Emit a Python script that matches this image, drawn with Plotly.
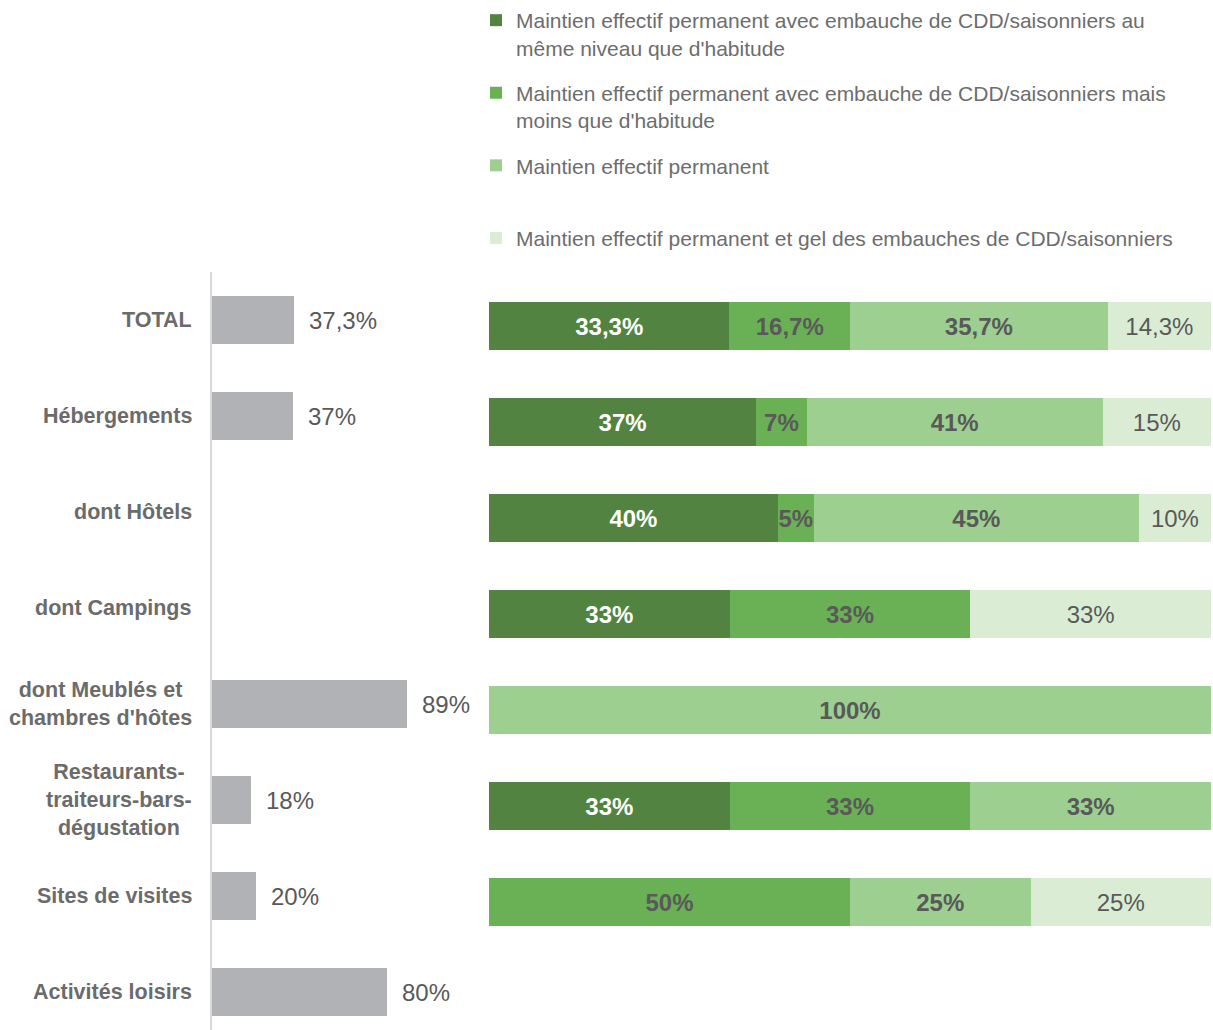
import plotly.graph_objects as go

categories = ["TOTAL", "Hébergements", "dont Hôtels", "dont Campings",
              "dont Meublés et<br>chambres d'hôtes",
              "Restaurants-<br>traiteurs-bars-<br>dégustation",
              "Sites de visites", "Activités loisirs"]

left_values = [37.3, 37, None, None, 89, 18, 20, 80]

series_names = [
    "Maintien effectif permanent avec embauche de CDD/saisonniers au<br>même niveau que d'habitude",
    "Maintien effectif permanent avec embauche de CDD/saisonniers mais<br>moins que d'habitude",
    "Maintien effectif permanent<br> ",
    "Maintien effectif permanent et gel des embauches de CDD/saisonniers",
]
s_same_level = [33.3, 37, 40, 33, 0, 33, 0, 0]
s_less = [16.7, 7, 5, 33, 0, 33, 50, 0]
s_keep = [35.7, 41, 45, 0, 100, 33, 25, 0]
s_freeze = [14.3, 15, 10, 33, 0, 0, 25, 0]
series_values = [s_same_level, s_less, s_keep, s_freeze]
series_colors = ["#528340", "#6ab156", "#9dd090", "#daedd4"]


def fmt(v):
    if v is None or v == 0:
        return ""
    if float(v).is_integer():
        return f"{int(v)}%"
    return f"{v}".replace(".", ",") + "%"


row_tot = [sum(s[i] for s in series_values) for i in range(len(categories))]

FONT = "Liberation Sans, Arial, Helvetica, sans-serif"
GREY = "#595959"

fig = go.Figure()

fig.add_trace(go.Bar(
    x=left_values, y=categories, orientation="h",
    marker=dict(color="#b1b2b5", line=dict(width=0)),
    xaxis="x", yaxis="y", showlegend=False, hoverinfo="skip",
))

for k, (name, vals, col) in enumerate(zip(series_names, series_values, series_colors)):
    xs = [(v / t * 100) if t else 0 for v, t in zip(vals, row_tot)]
    txt = [fmt(v) for v in vals]
    if k < 3:
        txt = [f"<b>{t}</b>" if t else "" for t in txt]
    tcolor = "white" if k == 0 else GREY
    fig.add_trace(go.Bar(
        x=xs, y=categories, orientation="h", name=name,
        legendgroup=f"g{k}",
        marker=dict(color=col, line=dict(width=0)),
        text=txt, textposition="inside", insidetextanchor="middle",
        textangle=0, constraintext="none",
        textfont=dict(family=FONT, size=24, color=tcolor),
        xaxis="x2", yaxis="y2", hoverinfo="skip",
    ))

# value labels next to the grey bars
for c, v in zip(categories, left_values):
    if v is None:
        continue
    fig.add_annotation(x=v, y=c, xref="x", yref="y", text=fmt(v),
                       showarrow=False, xanchor="left", xshift=13,
                       font=dict(family=FONT, size=24, color=GREY))

# category labels
for c in categories:
    fig.add_annotation(x=194 / 1213, y=c, xref="paper", yref="y",
                       text=f"<b>{c}</b>", showarrow=False,
                       xanchor="right", yanchor="middle", align="center",
                       font=dict(family=FONT, size=21.5, color="#6b6b6b"))

top_px, H = 271, 1030
plot_h = H - top_px
shift = 6 / 96
r_bottom = (1030 - 320) / 96

fig.update_layout(
    width=1213, height=1030,
    margin=dict(l=0, r=0, t=top_px, b=0),
    paper_bgcolor="white", plot_bgcolor="white",
    barmode="stack", bargap=0.5,
    font=dict(family=FONT, color=GREY),
    xaxis=dict(domain=[212 / 1213, 431 / 1213], range=[0, 100], visible=False, fixedrange=True),
    yaxis=dict(domain=[0, 1], type="category", categoryorder="array", categoryarray=categories,
               range=[r_bottom, -0.5], showticklabels=False, ticks="",
               showline=True, linecolor="#d9d9d9", linewidth=2, showgrid=False,
               zeroline=False, anchor="x"),
    xaxis2=dict(domain=[489 / 1213, 1211 / 1213], range=[0, 100], visible=False, anchor="y2"),
    yaxis2=dict(domain=[0, 1], type="category", categoryorder="array", categoryarray=categories,
                range=[r_bottom - shift, -0.5 - shift], visible=False, anchor="x2"),
    legend=dict(x=(516 - 40) / 1213, xanchor="left",
                y=1 + (top_px + 1) / plot_h, yanchor="top",
                traceorder="grouped", tracegroupgap=15, valign="top",
                font=dict(family=FONT, size=21, color="#6d6d6d"),
                bgcolor="rgba(0,0,0,0)"),
    showlegend=True,
)

fig.write_html("out.html", config={"displayModeBar": False},
               post_script="document.body.style.margin='0';document.body.style.overflow='hidden';")
